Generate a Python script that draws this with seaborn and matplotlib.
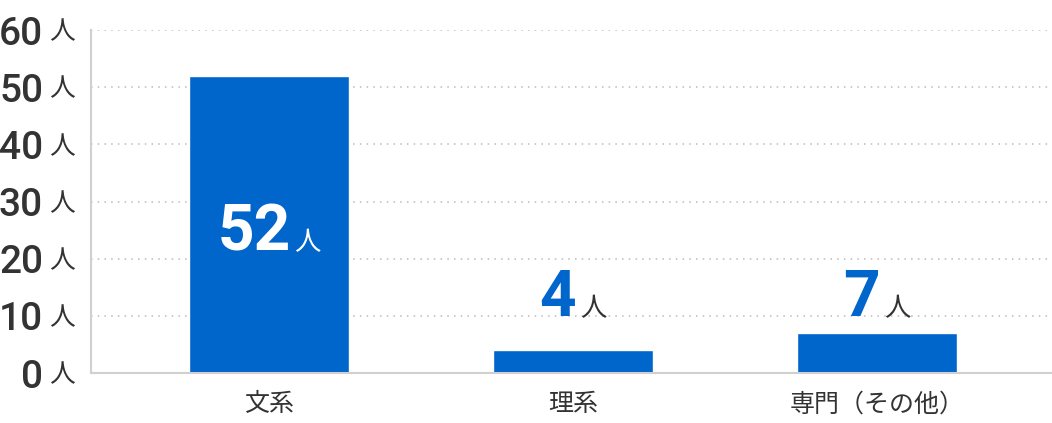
import seaborn as sns
import matplotlib.pyplot as plt
from matplotlib.offsetbox import TextArea, HPacker, AnnotationBbox

categories = ['文系', '理系', '専門（その他）']
counts = [52, 4, 7]
yticks = [0, 10, 20, 30, 40, 50, 60]
unit = '人'

blue = '#0066cc'
dark = '#333333'

sns.set_style('white')
plt.rcParams['font.family'] = ['Roboto', 'Noto Sans CJK JP', 'DejaVu Sans']

fig = plt.figure(figsize=(10.52, 4.23), dpi=100)
ax = fig.add_axes([91 / 1052, 50 / 423, 961 / 1052, 343 / 423])

sns.barplot(x=categories, y=counts, color=blue, saturation=1, width=0.526, ax=ax)

ax.set_xlim(-0.586, 2.576)
ax.set_ylim(0, 60)
ax.set_yticks(yticks)
ax.set_yticklabels([str(t) for t in yticks], fontsize=28, color=dark, fontweight='medium')
ax.tick_params(axis='y', length=0, pad=34.5)
ax.tick_params(axis='x', length=0, pad=14, labelsize=18, labelcolor=dark)
ax.set_xlabel('')
ax.set_ylabel('')

# dotted grid, solid light axis lines
for t in yticks[1:]:
    ax.axhline(t, color='#bbbbbb', lw=1.1, ls=(0, (1, 3.4)), zorder=0)
for side in ['top', 'right']:
    ax.spines[side].set_visible(False)
for side in ['left', 'bottom']:
    ax.spines[side].set_color('#d0d0d0')
    ax.spines[side].set_linewidth(1.5)

# unit next to each y tick
for t in yticks:
    ax.text(-0.0166, t, unit, transform=ax.get_yaxis_transform(), ha='right',
            va='center_baseline', fontsize=18.5, color=dark)

# value labels
for i, v in enumerate(counts):
    if v >= 20:
        num_color, unit_color, y = 'white', 'white', v / 2 - 6.8
    else:
        num_color, unit_color, y = blue, dark, 7.7
    box = HPacker(children=[
        TextArea(str(v), textprops=dict(fontsize=46, fontweight='bold', color=num_color)),
        TextArea(unit, textprops=dict(fontsize=19, color=unit_color)),
    ], align='baseline', pad=0, sep=3)
    ab = AnnotationBbox(box, (i, y), xycoords='data', frameon=False,
                        box_alignment=(0.5, 0), pad=0)
    ax.add_artist(ab)

plt.savefig('out.png', dpi=100)
plt.close()
